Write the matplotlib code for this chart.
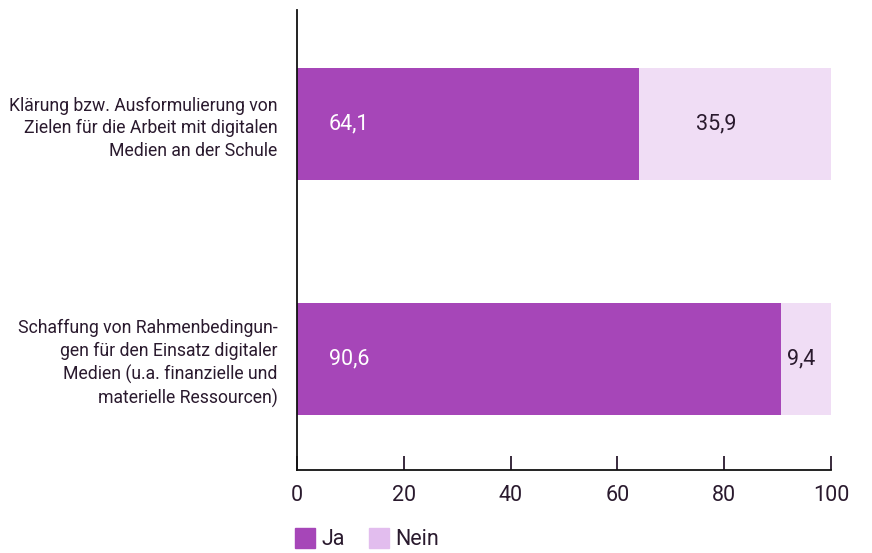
import matplotlib.pyplot as plt
from matplotlib.patches import Patch

plt.rcParams['font.family'] = ['Roboto', 'DejaVu Sans']

categories = [
    "Klärung bzw. Ausformulierung von\nZielen für die Arbeit mit digitalen\nMedien an der Schule",
    "Schaffung von Rahmenbedingun-\ngen für den Einsatz digitaler\nMedien (u.a. finanzielle und\nmaterielle Ressourcen)",
]
ja = [64.1, 90.6]
nein = [35.9, 9.4]
xticks = [0, 20, 40, 60, 80, 100]

c_ja = "#a646b8"
c_nein = "#f0ddf5"
c_nein_legend = "#e2bdee"
c_text = "#2a1a2e"

fig = plt.figure(figsize=(8.72, 5.53), dpi=100)
ax = fig.add_axes([0.3406, 0.150, 0.6124, 0.832])

ypos = [1, 0]
ax.barh(ypos, ja, height=0.477, color=c_ja)
ax.barh(ypos, nein, left=ja, height=0.477, color=c_nein)

def fmt(v):
    return f"{v:.1f}".replace(".", ",")

for y, a, n in zip(ypos, ja, nein):
    ax.text(6.0, y, fmt(a), color="white", fontsize=15.5, va="center", ha="left")
    ax.text(a + n * 0.4, y, fmt(n), color=c_text, fontsize=15.5, va="center", ha="center")

ax.set_xlim(0, 100)
ax.set_ylim(-0.472, 1.485)
ax.set_xticks(xticks)
ax.set_xticklabels([str(t) for t in xticks])
ax.set_yticks(ypos)
ax.set_yticklabels(categories, fontsize=12.7, color=c_text, ha="right", linespacing=1.32)
ax.tick_params(axis="y", length=0, pad=14)
ax.tick_params(axis="x", direction="in", length=10, width=1.3, color=c_text,
               labelsize=15.5, labelcolor=c_text, pad=11)
ax.spines["top"].set_visible(False)
ax.spines["right"].set_visible(False)
for s in ("left", "bottom"):
    ax.spines[s].set_color("#111111")
    ax.spines[s].set_linewidth(1.3)

handles = [Patch(color=c_ja, label="Ja"), Patch(color=c_nein_legend, label="Nein")]
leg = fig.legend(handles=handles, loc="lower left", bbox_to_anchor=(0.328, -0.01),
                 ncol=2, frameon=False, fontsize=15.5, handlelength=0.95, handleheight=1.05,
                 handletextpad=0.3, columnspacing=1.1, borderaxespad=0)
for t in leg.get_texts():
    t.set_color(c_text)

fig.savefig("out.png", dpi=100)
